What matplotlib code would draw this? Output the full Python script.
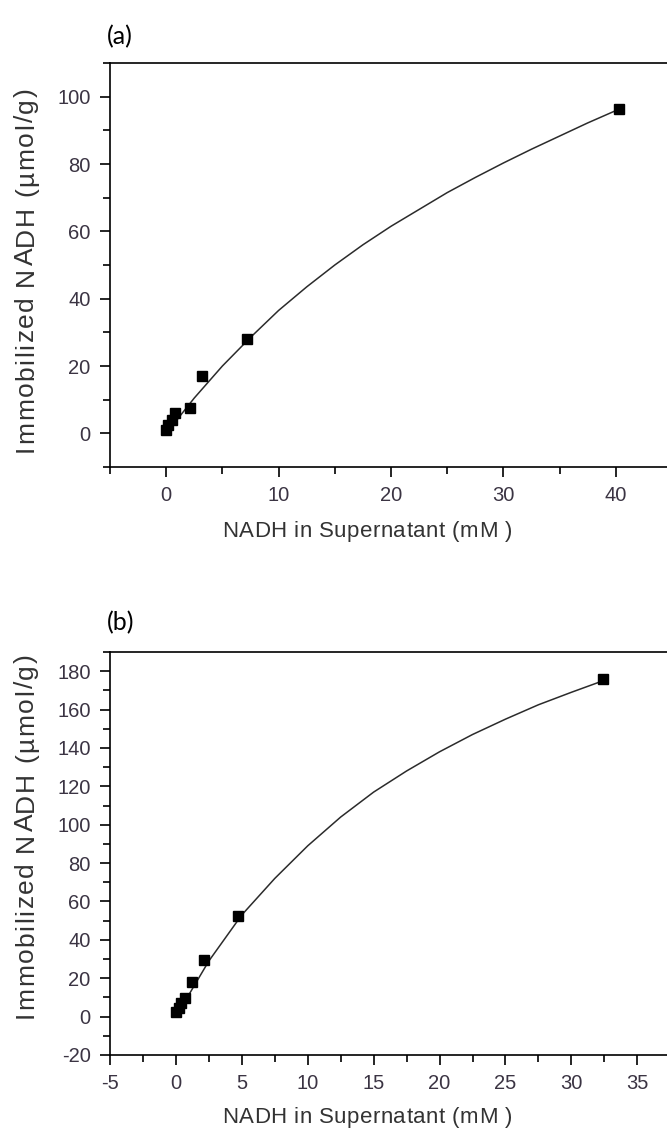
import matplotlib
matplotlib.use("Agg")
import matplotlib.pyplot as plt
from matplotlib.ticker import MultipleLocator
from matplotlib import font_manager
from matplotlib.ft2font import FT2Font

W, H, DPI = 667, 1136, 100
FONT = "Liberation Sans"
TEXT_COLOR = "#333333"
TICK_COLOR = "#3b3443"
plt.rcParams["axes.unicode_minus"] = False

# Panel (a): measured points and fitted curve
a_x = [0.0, 0.2, 0.5, 0.8, 2.1, 3.2, 7.2, 40.3]
a_y = [0.9, 2.4, 3.9, 5.9, 7.4, 17.0, 28.0, 96.3]
a_fit_x = [0.0, 2.5, 5.0, 7.5, 10.0, 12.5, 15.0, 17.5, 20.0, 22.5, 25.0, 27.5, 30.0, 32.5, 35.0, 37.5, 40.3]
a_fit_y = [0.0, 10.5, 20.0, 28.5, 36.5, 43.5, 50.0, 56.0, 61.5, 66.5, 71.5, 76.0, 80.3, 84.4, 88.3, 92.2, 96.3]

# Panel (b)
b_x = [0.0, 0.2, 0.4, 0.7, 1.2, 2.1, 4.7, 32.4]
b_y = [2.6, 4.4, 7.0, 9.6, 17.8, 29.6, 52.6, 176.0]
b_fit_x = [0.0, 2.5, 5.0, 7.5, 10.0, 12.5, 15.0, 17.5, 20.0, 22.5, 25.0, 27.5, 30.0, 32.4]
b_fit_y = [0.0, 29.0, 53.0, 72.0, 89.0, 104.0, 117.0, 128.0, 138.0, 147.0, 155.0, 162.5, 169.0, 175.0]

XLABEL = "NADH in Supernatant (mM )"
YLABEL = "Immobilized NADH (\u00b5mol/g)"


def spaced_text(fig, x, y, s, size, gap, rotation=0):
    # Origin exports put extra room between letters; place glyphs one by one
    font = FT2Font(font_manager.findfont(FONT))
    font.set_size(size, DPI)
    adv = [font.load_char(ord(c)).linearHoriAdvance / 65536 for c in s]
    total = sum(adv) + gap * (len(s) - 1)
    pos = -total / 2
    for c, a in zip(s, adv):
        if rotation == 0:
            fig.text((x + pos) / W, 1 - y / H, c, fontsize=size, family=FONT,
                     color=TEXT_COLOR, ha="left", va="baseline")
        else:
            fig.text(x / W, 1 - (y - pos) / H, c, fontsize=size, family=FONT,
                     color=TEXT_COLOR, rotation=90, rotation_mode="anchor",
                     ha="left", va="baseline")
        pos += a + gap


def make_panel(rect, xs, ys, fx, fy, xlim, ylim, xmaj, ymaj):
    # rect in pixels: left, top, right, bottom
    l, t, r, b = rect
    ax = fig.add_axes([l / W, 1 - b / H, (r - l) / W, (b - t) / H])
    ax.plot(fx, fy, color="#2b2b2b", lw=1.1, zorder=2)
    ax.plot(xs, ys, ls="none", marker="s", ms=7, color="black", zorder=3)
    ax.set_xlim(*xlim)
    ax.set_ylim(*ylim)
    ax.xaxis.set_major_locator(MultipleLocator(xmaj))
    ax.xaxis.set_minor_locator(MultipleLocator(xmaj / 2))
    ax.yaxis.set_major_locator(MultipleLocator(ymaj))
    ax.yaxis.set_minor_locator(MultipleLocator(ymaj / 2))
    ax.tick_params(which="both", direction="out", top=False, right=False,
                   width=1.2, color="black")
    ax.tick_params(which="major", length=7, pad=7, labelsize=14.5, labelcolor=TICK_COLOR)
    ax.tick_params(which="minor", length=5)
    for lab in ax.get_xticklabels() + ax.get_yticklabels():
        lab.set_family(FONT)
    for sp in ax.spines.values():
        sp.set_linewidth(1.2)
    ax.spines["right"].set_visible(False)
    return ax


fig = plt.figure(figsize=(W / DPI, H / DPI), dpi=DPI)

make_panel((110, 63, 672, 467), a_x, a_y, a_fit_x, a_fit_y, (-5, 45), (-10, 110), 10, 20)
make_panel((110, 652, 690, 1055), b_x, b_y, b_fit_x, b_fit_y, (-5, 39), (-20, 190), 5, 20)

spaced_text(fig, 367, 537, XLABEL, 16, 0.5)
spaced_text(fig, 367, 1123, XLABEL, 16, 0.5)
spaced_text(fig, 33, 270, YLABEL, 19, 1.5, rotation=90)
spaced_text(fig, 33, 836, YLABEL, 19, 1.5, rotation=90)

fig.text(107 / W, 1 - 37 / H, "(a)", fontsize=18, family="Lato", va="center", ha="left")
fig.text(107 / W, 1 - 623 / H, "(b)", fontsize=18, family="Lato", va="center", ha="left")

fig.savefig("out.png", dpi=DPI)
